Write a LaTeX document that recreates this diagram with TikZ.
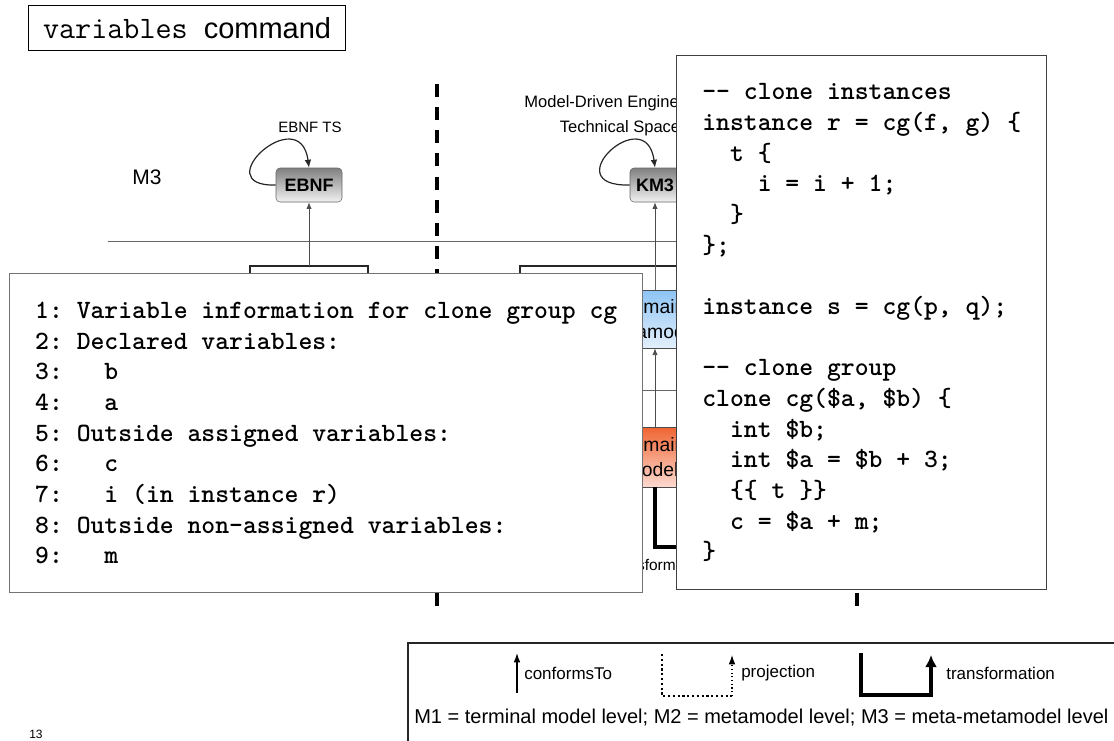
\documentclass[tikz,border=0pt]{standalone}
\usepackage{fontspec}
\setsansfont{Liberation Sans}
\usetikzlibrary{positioning,arrows.meta,calc}
\definecolor{metatop}{RGB}{140,195,245}
\definecolor{metabot}{RGB}{228,240,252}
\definecolor{modeltop}{RGB}{240,100,50}
\definecolor{modelbot}{RGB}{252,218,208}
\newcommand{\codefont}{\ttfamily\bfseries\fontsize{19.8}{23}\selectfont}

\begin{document}
\begin{tikzpicture}[x=0.75pt,y=-0.75pt,>=Latex,font=\sffamily]
\tikzstyle{tsbox}=[draw=black!60,rounded corners=3pt,top color=black!50,bottom color=black!5,font=\sffamily\bfseries\fontsize{13.5}{15}\selectfont,minimum height=25.5pt,inner sep=0pt]
\tikzstyle{m2box}=[draw=black!70,line width=0.6pt,minimum width=80pt,inner sep=0pt,align=center,font=\sffamily\fontsize{14.5}{18.5}\selectfont]
\tikzstyle{levelsep}=[black!60,line width=0.75pt]
\tikzstyle{tsline}=[line width=2.3pt,dash pattern=on 9.75pt off 7.6pt]
\tikzstyle{tsbracket}=[black!85,line width=1pt]
\tikzstyle{conforms}=[->,black!70,line width=0.6pt,>={Latex[length=5pt,width=4pt]}]
\tikzstyle{selfloop}=[->,black!85,line width=0.9pt,>={Latex[length=6pt,width=5pt]}]
\tikzstyle{codebox}=[draw,fill=white,line width=1.1pt,align=left,anchor=north west,font=\codefont,inner sep=0pt]
\tikzstyle{legendlbl}=[font=\sffamily\fontsize{12.75}{14}\selectfont,anchor=west,inner sep=0pt]

\useasboundingbox (0,0) rectangle (1114,740);
\clip (0,0) rectangle (1114,740);

% title
\node[draw,line width=0.9pt,anchor=north west,minimum width=237.75pt,minimum height=33.75pt,inner sep=0pt] (title) at (28,5) {{\ttfamily\fontsize{23.4}{26}\selectfont variables\ }{\fontsize{21.75}{24}\selectfont command}};

% levels and technical spaces
\draw[levelsep] (108,241) -- (700,241);
\draw[levelsep] (108,390) -- (700,390);
\draw[tsline] (437,84) -- (437,610);
\draw[tsline] (857,84) -- (857,610);
\node[font=\sffamily\fontsize{15.75}{18}\selectfont] (m3) at (147,177) {M3};

% EBNF TS
\node[tsbox,minimum width=49.5pt] (ebnf) at (309,185) {EBNF};
\node[font=\sffamily\fontsize{11.25}{13}\selectfont] (ebnfts) at (310,127) {EBNF TS};
\draw[selfloop] (ebnf.west) .. controls (205,187) and (300,100) .. (ebnf.north);
\draw[tsbracket] (250,273) -- (250,266) -- (368,266) -- (368,273);
\coordinate (ebmid) at (309,266);
\draw[conforms] (ebmid) -- (ebnf.south);

% MDE TS
\node[tsbox,minimum width=37.5pt] (km3) at (655,185) {KM3};
\node[align=center,font=\sffamily\fontsize{12.4}{18.75}\selectfont] (mdets) at (620,116) {Model-Driven Engineering\\Technical Space};
\draw[selfloop] (km3.west) .. controls (553,187) and (646,100) .. (km3.north);
\draw[tsbracket] (520,273) -- (520,266) -- (790,266) -- (790,273);
\coordinate (kmmid) at (655,266);
\draw[conforms] (kmmid) -- (km3.south);
\node[m2box,top color=metatop,bottom color=metabot,minimum height=43.5pt] (dmeta) at (652,319) {Domain\\Metamodel};
\node[m2box,top color=modeltop,bottom color=modelbot,minimum height=45pt] (dmodel) at (652,457) {Domain\\Model};
\draw[black!60,line width=0.6pt] (dmeta.north -| kmmid) -- (kmmid);
\draw[conforms] (dmodel.north -| kmmid) -- (dmeta.south -| kmmid);
\coordinate (trtgt) at (720,547);
\draw[line width=2.6pt] (dmodel.south -| kmmid) |- (trtgt);
\node[anchor=east,inner sep=0pt,font=\sffamily\fontsize{11.6}{13}\selectfont] (trname) at (676,565) {Transform};

% code boxes
\node[codebox,draw=black!55,minimum width=474.75pt,minimum height=239.25pt] (vars) at (9,273) {1:~Variable information for clone group cg\\
2:~Declared variables:\\
3:~~~b\\
4:~~~a\\
5:~Outside assigned variables:\\
6:~~~c\\
7:~~~i (in instance r)\\
8:~Outside non-assigned variables:\\
9:~~~m};
\node[codebox,draw=black!75,minimum width=277.5pt,minimum height=400.5pt] (src) at (676,55) {-{}- clone instances\\
instance r = cg(f, g) \{\\
~~t \{\\
~~~~i = i + 1;\\
~~\}\\
\};\\
\mbox{}\\
instance s = cg(p, q);\\
\mbox{}\\
-{}- clone group\\
clone cg(\$a, \$b) \{\\
~~int \$b;\\
~~int \$a = \$b + 3;\\
~~\{\{ t \}\}\\
~~c = \$a + m;\\
\}};

% legend
\draw[black!85,line width=1.1pt] (408,643) rectangle (1130,760);
\coordinate (ca) at (517,693);
\coordinate (cb) at (517,653);
\draw[->,line width=0.9pt,>={Latex[length=7pt,width=5pt]}] (ca) -- (cb);
\node[legendlbl] (conflbl) at (524,673) {conformsTo};
\coordinate (pa) at (662,654);
\coordinate (pb) at (662,696);
\coordinate (pc) at (732,696);
\coordinate (pd) at (732,655);
\draw[line width=1.6pt,dotted] (pa) -- (pb) -- (pc);
\draw[->,line width=0.8pt,dotted,>={Latex[length=7pt,width=5pt]}] (pc) -- (pd);
\node[legendlbl] (projlbl) at (741,673) {projection};
\coordinate (ta) at (861,653);
\coordinate (tb) at (861,695);
\coordinate (tc) at (931,695);
\coordinate (td) at (931,655);
\draw[->,line width=2.6pt,>={Latex[length=9pt,width=9pt]}] (ta) -- (tb) -- (tc) -- (td);
\node[legendlbl] (trflbl) at (946,673) {transformation};
\node[anchor=west,font=\sffamily\fontsize{15}{17}\selectfont,inner sep=0pt] (levels) at (414,718) {M1 = terminal model level; M2 = metamodel level; M3 = meta-metamodel level};
\node[font=\sffamily\fontsize{9}{10}\selectfont] (pagenum) at (36,734) {13};
\end{tikzpicture}
\end{document}
